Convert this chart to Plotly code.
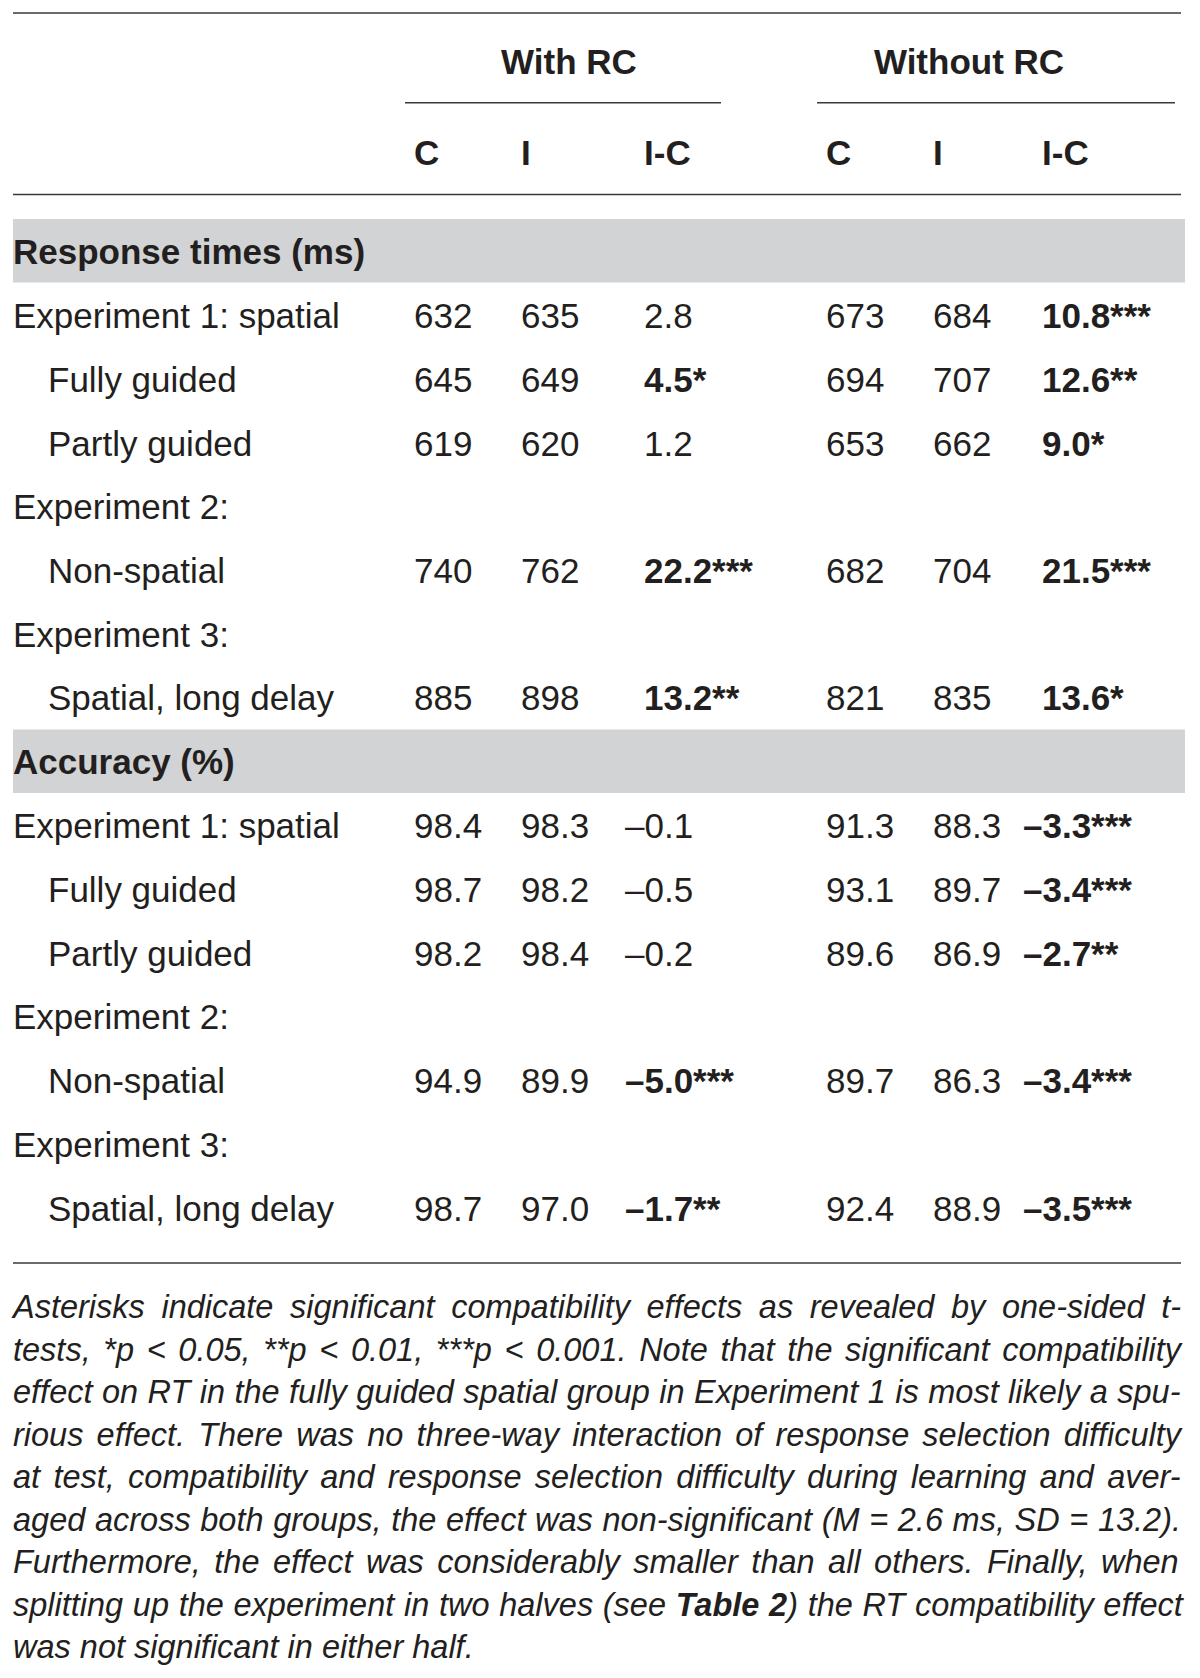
import re
import plotly.graph_objects as go

# ---- datos de la tabla ----
row_labels = ["Experiment 1: spatial", "Fully guided", "Partly guided", "Experiment 2:",
              "Non-spatial", "Experiment 3:", "Spatial, long delay"]
row_indent = [0, 1, 1, 0, 1, 0, 1]

groups = ["With RC", "Without RC"]
col_names = ["C", "I", "I-C"]

rt_with_c = [632, 645, 619, None, 740, None, 885]
rt_with_i = [635, 649, 620, None, 762, None, 898]
rt_with_ic = ["2.8", "4.5*", "1.2", None, "22.2***", None, "13.2**"]
rt_wo_c = [673, 694, 653, None, 682, None, 821]
rt_wo_i = [684, 707, 662, None, 704, None, 835]
rt_wo_ic = ["10.8***", "12.6**", "9.0*", None, "21.5***", None, "13.6*"]

acc_with_c = [98.4, 98.7, 98.2, None, 94.9, None, 98.7]
acc_with_i = [98.3, 98.2, 98.4, None, 89.9, None, 97.0]
acc_with_ic = ["–0.1", "–0.5", "–0.2", None, "–5.0***", None, "–1.7**"]
acc_wo_c = [91.3, 93.1, 89.6, None, 89.7, None, 92.4]
acc_wo_i = [88.3, 89.7, 86.9, None, 86.3, None, 88.9]
acc_wo_ic = ["–3.3***", "–3.4***", "–2.7**", None, "–3.4***", None, "–3.5***"]

sections = ["Response times (ms)", "Accuracy (%)"]

footnote = [
    "Asterisks indicate significant compatibility effects as revealed by one-sided t-",
    "tests, *p < 0.05, **p < 0.01, ***p < 0.001. Note that the significant compatibility",
    "effect on RT in the fully guided spatial group in Experiment 1 is most likely a spu-",
    "rious effect. There was no three-way interaction of response selection difficulty",
    "at test, compatibility and response selection difficulty during learning and aver-",
    "aged across both groups, the effect was non-significant (M = 2.6 ms, SD = 13.2).",
    "Furthermore, the effect was considerably smaller than all others. Finally, when",
    "splitting up the experiment in two halves (see <b>Table 2</b>) the RT compatibility effect",
    "was not significant in either half.",
]

# ---- layout (pixeles de la pagina; el body tiene 8px de margen) ----
W, H = 1200, 1678
PAD = 8
FONT = "Liberation Sans"
TXT = "#231f20"
GRAY = "#d1d3d4"
SIZE = 35
FOOT_SIZE = 32.5
X_LEFT, X_RIGHT = 13, 1181
col_x = [[414, 521, 644], [826, 933, 1042]]
neg_shift = 19
label_x = [13, 48]
row_step = 63.7
section_y = [251, 761.5]
first_row_y = [315.5, 825.6]
DY = 4  # ajuste vertical del texto

# anchos de Arial / Liberation Sans (por 1000 em) para justificar la nota
_w = {" ": 278, ",": 278, ".": 278, "-": 333, "*": 389, "<": 584, "=": 584, "(": 333, ")": 333,
      ":": 278, "%": 889}
for ch in "0123456789":
    _w[ch] = 556
for ch, v in zip("ABCDEFGHIJKLMNOPQRSTUVWXYZ",
                 [667, 667, 722, 722, 667, 611, 778, 722, 278, 500, 667, 556, 833, 722, 778,
                  667, 778, 722, 667, 611, 722, 667, 944, 667, 667, 611]):
    _w[ch] = v
for ch, v in zip("abcdefghijklmnopqrstuvwxyz",
                 [556, 556, 500, 556, 556, 278, 556, 556, 222, 222, 500, 222, 833, 556, 556,
                  556, 556, 333, 500, 278, 556, 500, 722, 500, 500, 500]):
    _w[ch] = v


def text_width(s, size):
    plain = re.sub(r"<[^>]+>", "", s)
    return sum(_w.get(c, 556) for c in plain) * size / 1000.0


def justify(line, size, width):
    plain = re.sub(r"<[^>]+>", "", line)
    n = plain.count(" ")
    extra = (width - text_width(line, size)) / max(n, 1)
    return f'<span style="word-spacing:{extra:.2f}px">{line}</span>'


def fmt(v, dec):
    if v is None:
        return None
    return f"{v:.{dec}f}"


def ic_text(s):
    if s is None:
        return None
    return f"<b>{s}</b>" if "*" in s else s


fig = go.Figure()

# bandas grises de seccion
for sy in section_y:
    fig.add_shape(type="rect", x0=X_LEFT, x1=1185, y0=sy - 32, y1=sy + 31.5,
                  fillcolor=GRAY, line_width=0, layer="below")

# lineas horizontales
for y in [13, 194.6, 1263]:
    fig.add_shape(type="line", x0=X_LEFT, x1=X_RIGHT, y0=y, y1=y,
                  line=dict(color="#3a3a3a", width=1.5))
for x0, x1 in [(405, 721), (817, 1175)]:
    fig.add_shape(type="line", x0=x0, x1=x1, y0=102.7, y1=102.7,
                  line=dict(color="#3a3a3a", width=1.5))

# encabezados de grupo
fig.add_trace(go.Scatter(
    x=[569, 969], y=[61 + DY, 61 + DY], mode="text",
    text=[f"<b>{g}</b>" for g in groups], textposition="middle center",
    textfont=dict(family=FONT, size=SIZE, color=TXT), hoverinfo="skip"))

# encabezados de columna
hx, hy, ht = [], [], []
for g in range(2):
    for k, name in enumerate(col_names):
        hx.append(col_x[g][k])
        hy.append(152 + DY)
        ht.append(f"<b>{name}</b>")
fig.add_trace(go.Scatter(
    x=hx, y=hy, mode="text", text=ht, textposition="middle right",
    textfont=dict(family=FONT, size=SIZE, color=TXT), hoverinfo="skip"))

# titulos de seccion
fig.add_trace(go.Scatter(
    x=[X_LEFT] * 2, y=[s + DY for s in section_y], mode="text",
    text=[f"<b>{s}</b>" for s in sections], textposition="middle right",
    textfont=dict(family=FONT, size=SIZE, color=TXT), hoverinfo="skip"))

blocks = [
    (first_row_y[0], [[fmt(v, 0) for v in rt_with_c], [fmt(v, 0) for v in rt_with_i], rt_with_ic],
     [[fmt(v, 0) for v in rt_wo_c], [fmt(v, 0) for v in rt_wo_i], rt_wo_ic]),
    (first_row_y[1], [[fmt(v, 1) for v in acc_with_c], [fmt(v, 1) for v in acc_with_i], acc_with_ic],
     [[fmt(v, 1) for v in acc_wo_c], [fmt(v, 1) for v in acc_wo_i], acc_wo_ic]),
]

tx, ty, tt = [], [], []
for y0, with_cols, wo_cols in blocks:
    for r, lab in enumerate(row_labels):
        y = y0 + r * row_step + DY
        tx.append(label_x[row_indent[r]])
        ty.append(y)
        tt.append(lab)
        for g, cols in enumerate([with_cols, wo_cols]):
            for k, col in enumerate(cols):
                val = col[r]
                if val is None:
                    continue
                x = col_x[g][k]
                if k == 2:
                    if val.startswith("–"):
                        x -= neg_shift
                    val = ic_text(val)
                tx.append(x)
                ty.append(y)
                tt.append(val)

fig.add_trace(go.Scatter(
    x=tx, y=ty, mode="text", text=tt, textposition="middle right",
    textfont=dict(family=FONT, size=SIZE, color=TXT), hoverinfo="skip"))

# nota al pie (justificada salvo la ultima linea)
foot_text = [justify(l, FOOT_SIZE, X_RIGHT - X_LEFT) for l in footnote[:-1]] + [footnote[-1]]
fig.add_trace(go.Scatter(
    x=[X_LEFT] * len(footnote), y=[1306 + DY + i * 42.5 for i in range(len(footnote))],
    mode="text", text=foot_text, textposition="middle right",
    textfont=dict(family=FONT, size=FOOT_SIZE, color=TXT, style="italic"), hoverinfo="skip"))

fig.update_layout(
    width=W - PAD, height=H - PAD, margin=dict(l=0, r=0, t=0, b=0),
    paper_bgcolor="white", plot_bgcolor="white", showlegend=False,
    xaxis=dict(range=[PAD, W], visible=False, fixedrange=True),
    yaxis=dict(range=[H, PAD], visible=False, fixedrange=True),
)

fig.write_html("out.html")
